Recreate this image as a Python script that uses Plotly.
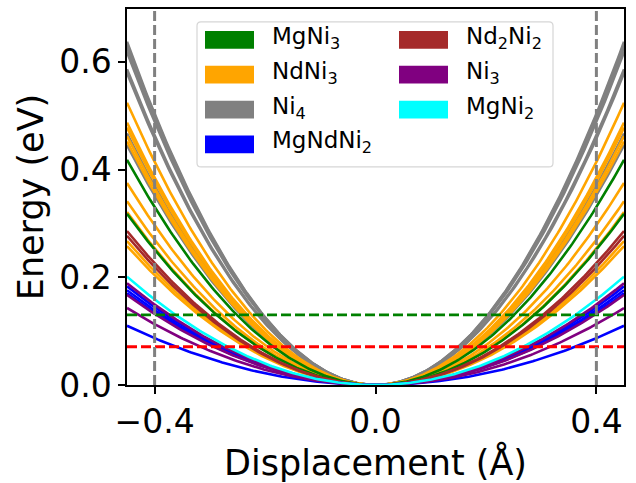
import numpy as np
import plotly.graph_objects as go

# Harmonic curvature of each displacement path, E = k * d^2  (eV / Å^2)
mgni3_k = [2.064, 1.570]
ndni3_k = [2.588, 2.405, 2.360, 2.281, 2.232, 1.852, 1.684, 1.585, 1.319, 1.274]
ni4_k = [3.146, 3.121, 3.091, 3.052, 2.894, 2.859, 2.306, 2.198]
mgndni2_k = [0.904, 0.869, 0.840, 0.543]
nd2ni2_k = [1.412, 1.368]
ni3_k = [0.933, 0.825, 0.706]
mgni2_k = [0.993]

site_labels = ["MgNi<sub>3</sub>", "NdNi<sub>3</sub>", "Ni<sub>4</sub>", "MgNdNi<sub>2</sub>",
               "Nd<sub>2</sub>Ni<sub>2</sub>", "Ni<sub>3</sub>", "MgNi<sub>2</sub>"]
site_colors = ["green", "orange", "gray", "blue", "brown", "purple", "cyan"]
site_curvatures = [mgni3_k, ndni3_k, ni4_k, mgndni2_k, nd2ni2_k, ni3_k, mgni2_k]

# reference energies (eV) and displacement markers (Å)
energy_levels = [0.130, 0.071]
energy_level_colors = ["green", "red"]
displacement_marks = [-0.4, 0.4]

x_range = [-0.45, 0.45]
y_range = [0.0, 0.698]

FONT = "DejaVu Sans"
W, H = 636, 483
L, R, T, B = 127, 12, 7, 95

d = np.linspace(x_range[0], x_range[1], 241)

fig = go.Figure()

draw_order = [2, 1, 0, 4, 3, 5, 6]
for i in draw_order:
    for k in site_curvatures[i]:
        fig.add_trace(go.Scatter(
            x=d, y=k * d ** 2, mode="lines",
            line=dict(color=site_colors[i], width=2.6),
            showlegend=False, hoverinfo="skip"))

shapes = []
for e, c in zip(energy_levels, energy_level_colors):
    shapes.append(dict(type="line", xref="paper", yref="y", x0=0, x1=1, y0=e, y1=e,
                       line=dict(color=c, width=2.8, dash="10px,4px"), layer="above"))
for xm in displacement_marks:
    shapes.append(dict(type="line", xref="x", yref="paper", x0=xm, x1=xm, y0=0, y1=1,
                       line=dict(color="gray", width=3, dash="10px,4px"), layer="above"))

# legend box drawn in pixel space of the figure, converted to paper coordinates
pw, ph = W - L - R, H - T - B


def px(xp):
    return (xp - L) / pw


def py(yp):
    return (H - B - yp) / ph


bx0, bx1, by0, by1, rad = 197, 553, 20, 167, 4
path = (f"M {px(bx0 + rad)} {py(by0)} L {px(bx1 - rad)} {py(by0)} "
        f"Q {px(bx1)} {py(by0)} {px(bx1)} {py(by0 + rad)} "
        f"L {px(bx1)} {py(by1 - rad)} Q {px(bx1)} {py(by1)} {px(bx1 - rad)} {py(by1)} "
        f"L {px(bx0 + rad)} {py(by1)} Q {px(bx0)} {py(by1)} {px(bx0)} {py(by1 - rad)} "
        f"L {px(bx0)} {py(by0 + rad)} Q {px(bx0)} {py(by0)} {px(bx0 + rad)} {py(by0)} Z")
shapes.append(dict(type="path", xref="paper", yref="paper", path=path,
                   fillcolor="rgba(255,255,255,0.8)", line=dict(color="#d6d6d6", width=1.2),
                   layer="above"))

annotations = []
col_patch_x = [205, 399]
col_text_x = [270, 464]
row_y = [38.3, 73.6, 108.9, 144.2]
for idx, (lab, col) in enumerate(zip(site_labels, site_colors)):
    c, r = (0, idx) if idx < 4 else (1, idx - 4)
    yc = row_y[r]
    shapes.append(dict(type="rect", xref="paper", yref="paper",
                       x0=px(col_patch_x[c]), x1=px(col_patch_x[c] + 49),
                       y0=py(yc - 9), y1=py(yc + 9),
                       fillcolor=col, line=dict(width=0), layer="above"))
    annotations.append(dict(xref="paper", yref="paper", x=px(col_text_x[c]), y=py(yc - 2),
                            text=lab, showarrow=False, xanchor="left", yanchor="middle",
                            font=dict(family=FONT, size=23, color="black")))

fig.update_layout(
    width=W, height=H,
    margin=dict(l=L, r=R, t=T, b=B),
    paper_bgcolor="white", plot_bgcolor="white",
    shapes=shapes, annotations=annotations,
    font=dict(family=FONT, color="black"),
    showlegend=False,
)
fig.update_xaxes(
    range=x_range, tickvals=[-0.4, 0.0, 0.4], tickformat=".1f",
    showgrid=False, zeroline=False, showline=True, mirror=True,
    linecolor="black", linewidth=1.5, ticks="outside", ticklen=7, tickwidth=1.5,
    tickcolor="black", tickfont=dict(family=FONT, size=33),
    title=dict(text="Displacement (Å)", font=dict(family=FONT, size=35), standoff=10),
)
fig.update_yaxes(
    range=y_range, tickvals=[0.0, 0.2, 0.4, 0.6], tickformat=".1f",
    showgrid=False, zeroline=False, showline=True, mirror=True,
    linecolor="black", linewidth=1.5, ticks="outside", ticklen=7, tickwidth=1.5,
    tickcolor="black", tickfont=dict(family=FONT, size=33),
    title=dict(text="Energy (eV)", font=dict(family=FONT, size=35), standoff=5),
)

fig.write_html("out.html")
